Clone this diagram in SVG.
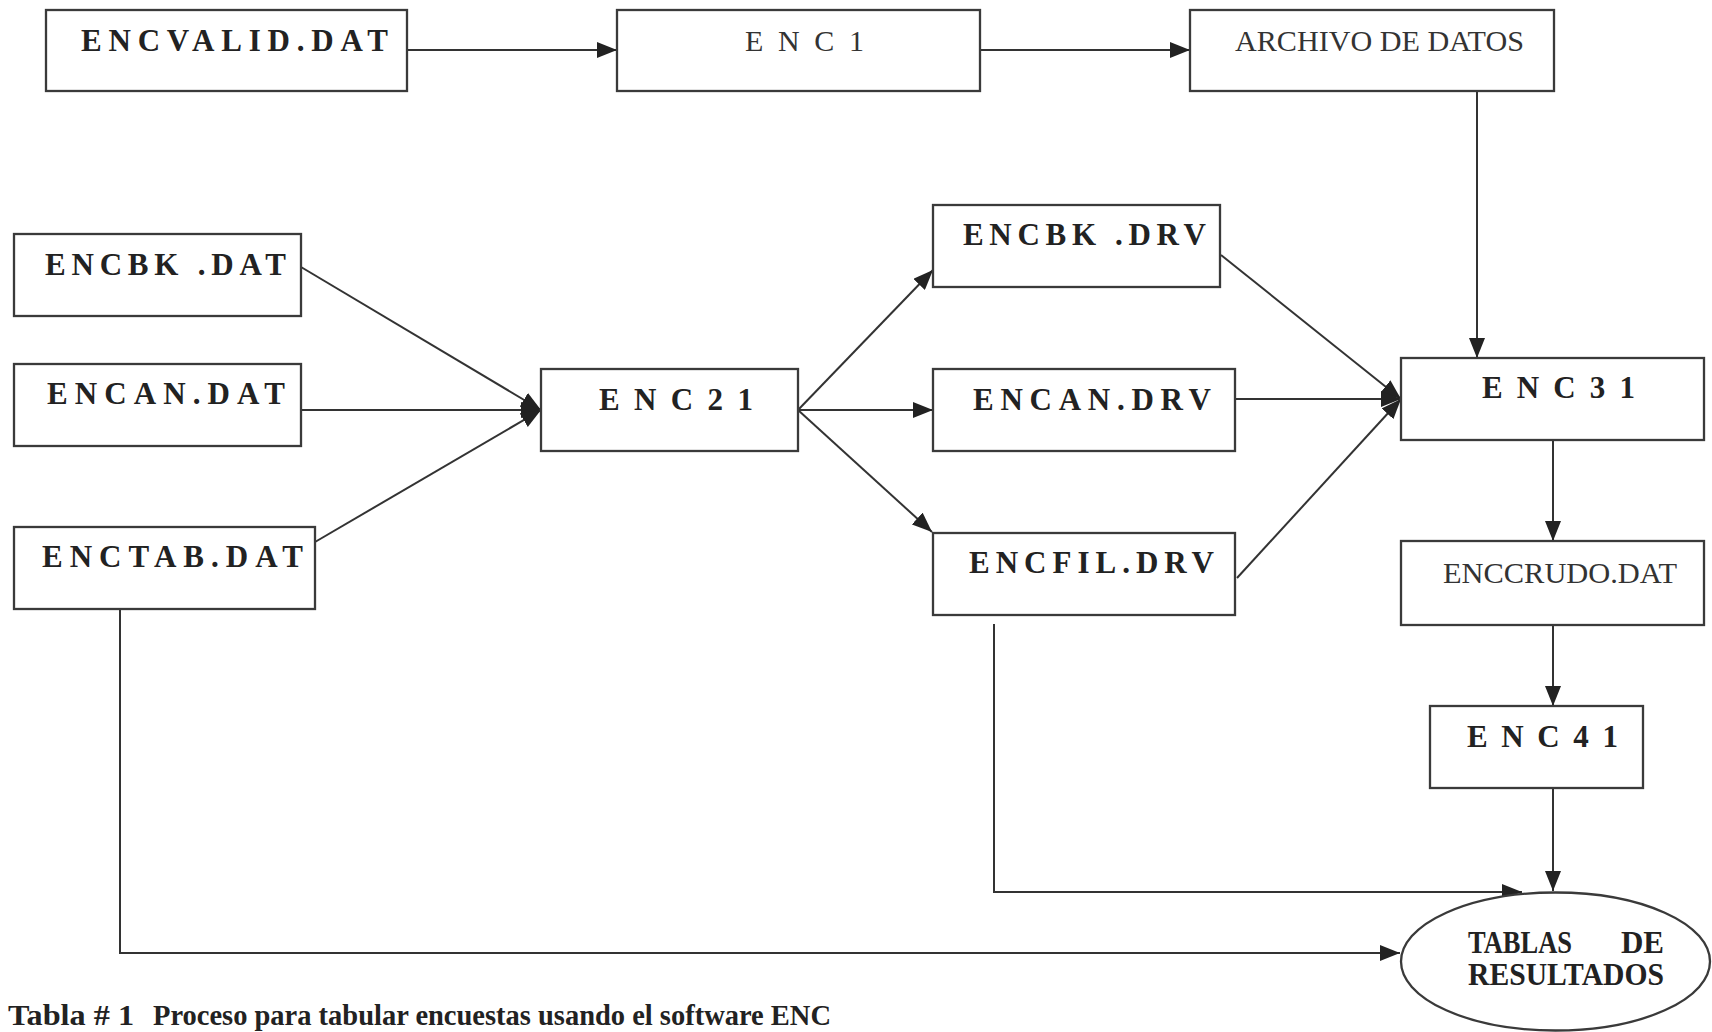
<svg xmlns="http://www.w3.org/2000/svg" width="1712" height="1032" viewBox="0 0 1712 1032">
<style>
.box{fill:#fff;stroke:#3a3a3a;stroke-width:2.3}
.ln{fill:none;stroke:#333;stroke-width:2}
.b{font-family:"Liberation Serif","Times New Roman",serif;font-weight:bold;font-size:31px;fill:#222}
.r{font-family:"Liberation Serif","Times New Roman",serif;font-size:30px;fill:#333}
.cap{font-family:"Liberation Serif","Times New Roman",serif;font-weight:bold;font-size:29px;fill:#222}
</style>
<defs>
<marker id="arr" viewBox="0 0 20 16" refX="20" refY="8" markerWidth="20" markerHeight="16" markerUnits="userSpaceOnUse" orient="auto">
<path d="M0,0 L20,8 L0,16 z" fill="#222"/>
</marker>
</defs>
<rect width="1712" height="1032" fill="#fff"/>
<g id="connectors">
<line class="ln" x1="407" y1="50" x2="617" y2="50" marker-end="url(#arr)"/>
<line class="ln" x1="980" y1="50" x2="1190" y2="50" marker-end="url(#arr)"/>
<line class="ln" x1="1477" y1="91" x2="1477" y2="358" marker-end="url(#arr)"/>
<line class="ln" x1="301" y1="267" x2="541" y2="410" marker-end="url(#arr)"/>
<line class="ln" x1="301" y1="410" x2="541" y2="410" marker-end="url(#arr)"/>
<line class="ln" x1="315" y1="542" x2="541" y2="410" marker-end="url(#arr)"/>
<line class="ln" x1="798" y1="410" x2="933" y2="270" marker-end="url(#arr)"/>
<line class="ln" x1="798" y1="410" x2="933" y2="410" marker-end="url(#arr)"/>
<line class="ln" x1="798" y1="410" x2="932" y2="532" marker-end="url(#arr)"/>
<line class="ln" x1="1221" y1="255" x2="1401" y2="399" marker-end="url(#arr)"/>
<line class="ln" x1="1235" y1="399" x2="1401" y2="399" marker-end="url(#arr)"/>
<line class="ln" x1="1237" y1="578" x2="1401" y2="399" marker-end="url(#arr)"/>
<line class="ln" x1="1553" y1="440" x2="1553" y2="541" marker-end="url(#arr)"/>
<line class="ln" x1="1553" y1="625" x2="1553" y2="706" marker-end="url(#arr)"/>
<line class="ln" x1="1553" y1="788" x2="1553" y2="891" marker-end="url(#arr)"/>
<polyline class="ln" points="994,624 994,892 1522,892" marker-end="url(#arr)"/>
<polyline class="ln" points="120,604 120,953 1400,953" marker-end="url(#arr)"/>
</g>
<g id="encvalid">
<rect class="box" x="46" y="10" width="361" height="81"/>
<text class="b" x="81" y="51" textLength="307" lengthAdjust="spacing">ENCVALID.DAT</text>
</g>
<g id="enc1">
<rect class="box" x="617" y="10" width="363" height="81"/>
<text class="r" x="745" y="51" textLength="119" lengthAdjust="spacing">E N C 1</text>
</g>
<g id="archivo">
<rect class="box" x="1190" y="10" width="364" height="81"/>
<text class="r" x="1235" y="51" textLength="289" lengthAdjust="spacingAndGlyphs">ARCHIVO DE DATOS</text>
</g>
<g id="encbk-dat">
<rect class="box" x="14" y="234" width="287" height="82"/>
<text class="b" x="45" y="275" textLength="241" lengthAdjust="spacing">ENCBK .DAT</text>
</g>
<g id="encan-dat">
<rect class="box" x="14" y="364" width="287" height="82"/>
<text class="b" x="47" y="404" textLength="238" lengthAdjust="spacing">ENCAN.DAT</text>
</g>
<g id="enctab-dat">
<rect class="box" x="14" y="527" width="301" height="82"/>
<text class="b" x="42" y="567" textLength="261" lengthAdjust="spacing">ENCTAB.DAT</text>
</g>
<g id="enc21">
<rect class="box" x="541" y="369" width="257" height="82"/>
<text class="b" x="599" y="410" textLength="154" lengthAdjust="spacing">E N C 2 1</text>
</g>
<g id="encbk-drv">
<rect class="box" x="933" y="205" width="287" height="82"/>
<text class="b" x="963" y="245" textLength="243" lengthAdjust="spacing">ENCBK .DRV</text>
</g>
<g id="encan-drv">
<rect class="box" x="933" y="369" width="302" height="82"/>
<text class="b" x="973" y="410" textLength="238" lengthAdjust="spacing">ENCAN.DRV</text>
</g>
<g id="encfil-drv">
<rect class="box" x="933" y="533" width="302" height="82"/>
<text class="b" x="969" y="573" textLength="245" lengthAdjust="spacing">ENCFIL.DRV</text>
</g>
<g id="enc31">
<rect class="box" x="1401" y="358" width="303" height="82"/>
<text class="b" x="1482" y="398" textLength="153" lengthAdjust="spacing">E N C 3 1</text>
</g>
<g id="enccrudo">
<rect class="box" x="1401" y="541" width="303" height="84"/>
<text class="r" x="1443" y="583" textLength="234" lengthAdjust="spacingAndGlyphs">ENCCRUDO.DAT</text>
</g>
<g id="enc41">
<rect class="box" x="1430" y="706" width="213" height="82"/>
<text class="b" x="1467" y="747" textLength="151" lengthAdjust="spacing">E N C 4 1</text>
</g>
<g id="tablas">
<ellipse class="box" cx="1555.5" cy="961.5" rx="154.5" ry="69"/>
<text class="b" x="1468" y="953" font-size="34" textLength="104" lengthAdjust="spacingAndGlyphs">TABLAS</text>
<text class="b" x="1664" y="953" font-size="34" text-anchor="end">DE</text>
<text class="b" x="1468" y="985" font-size="34" textLength="196" lengthAdjust="spacingAndGlyphs">RESULTADOS</text>
</g>
<g id="caption">
<text class="cap" x="8" y="1025" textLength="126" lengthAdjust="spacingAndGlyphs">Tabla # 1</text>
<text class="cap" x="153" y="1025" textLength="678" lengthAdjust="spacingAndGlyphs">Proceso para tabular encuestas usando el software ENC</text>
</g>
</svg>
